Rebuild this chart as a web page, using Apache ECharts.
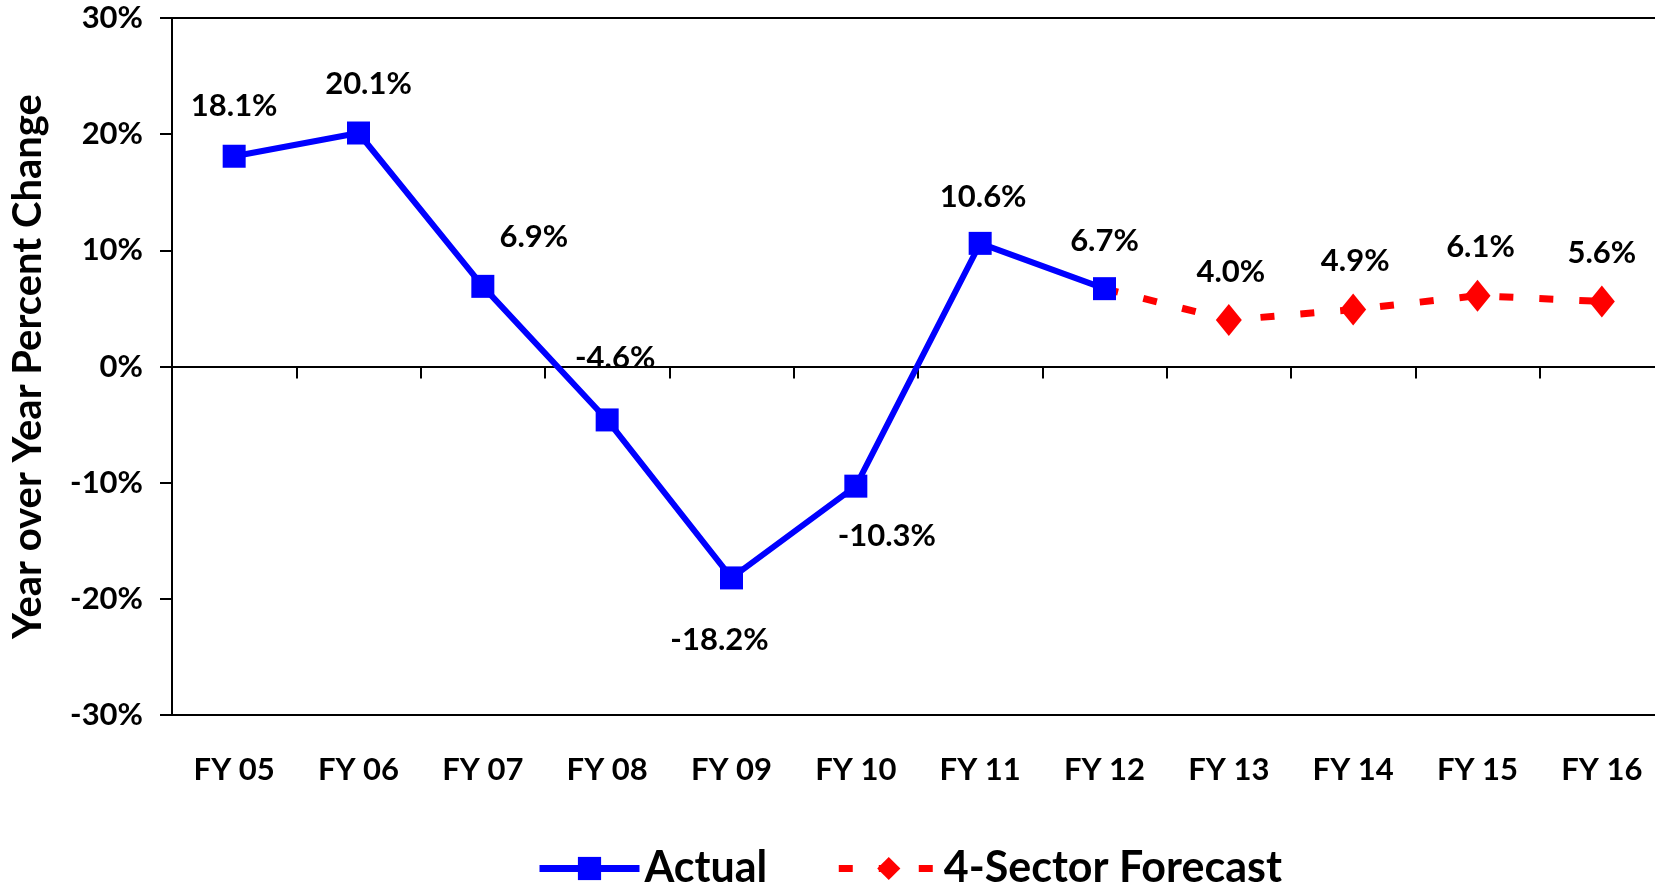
<!DOCTYPE html>
<html>
<head>
<meta charset="utf-8">
<script src="https://cdn.jsdelivr.net/npm/echarts@6/dist/echarts.min.js"></script>
<style>
  html, body { margin: 0; padding: 0; background: #fff; }
  #chart { width: 1655px; height: 886px; }
</style>
</head>
<body>
<div id="chart"></div>
<script>
// Fiscal years on the category axis
const years = ['FY 05', 'FY 06', 'FY 07', 'FY 08', 'FY 09', 'FY 10',
               'FY 11', 'FY 12', 'FY 13', 'FY 14', 'FY 15', 'FY 16'];

// Year-over-year percent change, actual results
const actual = [18.1, 20.1, 6.9, -4.6, -18.2, -10.3, 10.6, 6.7, null, null, null, null];

// 4-sector forecast, continuing from the last actual year
const forecast = [null, null, null, null, null, null, null, 6.7, 4.0, 4.9, 6.1, 5.6];

// Y-axis range and step (percent)
const yMin = -30, yMax = 30, yStep = 10;

// Label nudges [dx, dy] in pixels, relative to each point
const actualLabelNudge = [[0, -50], [10, -49], [51, -49], [8, -62], [-12, 62], [31, 50],
                          [3, -46], [0, -48]];
const forecastLabelNudge = [[2, -48], [2, -49], [3, -49], [0, -48]];

const FONT = 'Lato';
const labelText = { fontFamily: FONT, fontWeight: 'bold', fontSize: 31, color: '#000' };

function pct(v) { return v.toFixed(1) + '%'; }

const actualData = actual.map((v, i) => {
  if (v === null) return null;
  return { value: v, label: { offset: actualLabelNudge[i] } };
});

const firstForecast = forecast.findIndex(v => v !== null);
const forecastData = forecast.map((v, i) => {
  if (v === null) return null;
  if (i === firstForecast) {
    // joins the actual line; its marker and label belong to the actual series
    return { value: v, symbol: 'none', label: { show: false } };
  }
  return { value: v, label: { offset: forecastLabelNudge[i - firstForecast - 1] } };
});

const BLUE = '#0000ff', RED = '#ff0000';

const chart = echarts.init(document.getElementById('chart'), null, { renderer: 'canvas' });

chart.setOption({
  animation: false,
  backgroundColor: '#fff',
  grid: {
    left: 172, top: 18, width: 1492, height: 697,
    outerBoundsMode: 'none',
    show: true, borderColor: '#000', borderWidth: 2, backgroundColor: 'transparent',
    containLabel: false
  },
  legend: {
    data: [
      { name: 'Actual', lineStyle: { width: 7 } },
      { name: '4-Sector Forecast', lineStyle: { width: 7 } }
    ],
    left: 531, top: 842,
    itemWidth: 100, itemHeight: 29, itemGap: 68,
    textStyle: { fontFamily: FONT, fontWeight: 'bold', fontSize: 43, color: '#000' }
  },
  xAxis: [
    {
      type: 'category', data: years, boundaryGap: true,
      axisLine: { onZero: true, lineStyle: { color: '#000', width: 2 } },
      axisTick: { show: true, length: 12, inside: false, lineStyle: { color: '#000', width: 2 } },
      axisLabel: { show: false },
      splitLine: { show: false }
    },
    {
      type: 'category', data: years, boundaryGap: true, position: 'bottom',
      axisLine: { show: false, onZero: false },
      axisTick: { show: false },
      axisLabel: { show: true, margin: 39, ...labelText },
      splitLine: { show: false }
    }
  ],
  yAxis: {
    type: 'value', min: yMin, max: yMax, interval: yStep,
    name: 'Year over Year Percent Change',
    nameLocation: 'middle', nameGap: 124, nameRotate: 90,
    nameTextStyle: { ...labelText, fontSize: 40 },
    axisLine: { show: true, lineStyle: { color: '#000', width: 2 } },
    axisTick: { show: true, length: 12, inside: false, lineStyle: { color: '#000', width: 2 } },
    axisLabel: { margin: 29, formatter: '{value}%', ...labelText },
    splitLine: { show: false }
  },
  series: [
    {
      name: '4-Sector Forecast', type: 'line', data: forecastData, xAxisIndex: 0,
      symbol: 'diamond', symbolSize: [26, 32],
      lineStyle: { color: RED, width: 7, type: [14, 26], cap: 'butt' },
      itemStyle: { color: RED },
      label: { show: true, position: 'inside', formatter: p => pct(p.value), ...labelText },
      z: 2
    },
    {
      name: 'Actual', type: 'line', data: actualData, xAxisIndex: 0,
      symbol: 'rect', symbolSize: 23,
      lineStyle: { color: BLUE, width: 6 },
      itemStyle: { color: BLUE },
      label: { show: true, position: 'inside', formatter: p => pct(p.value), ...labelText },
      z: 3
    }
  ]
});
</script>
</body>
</html>
